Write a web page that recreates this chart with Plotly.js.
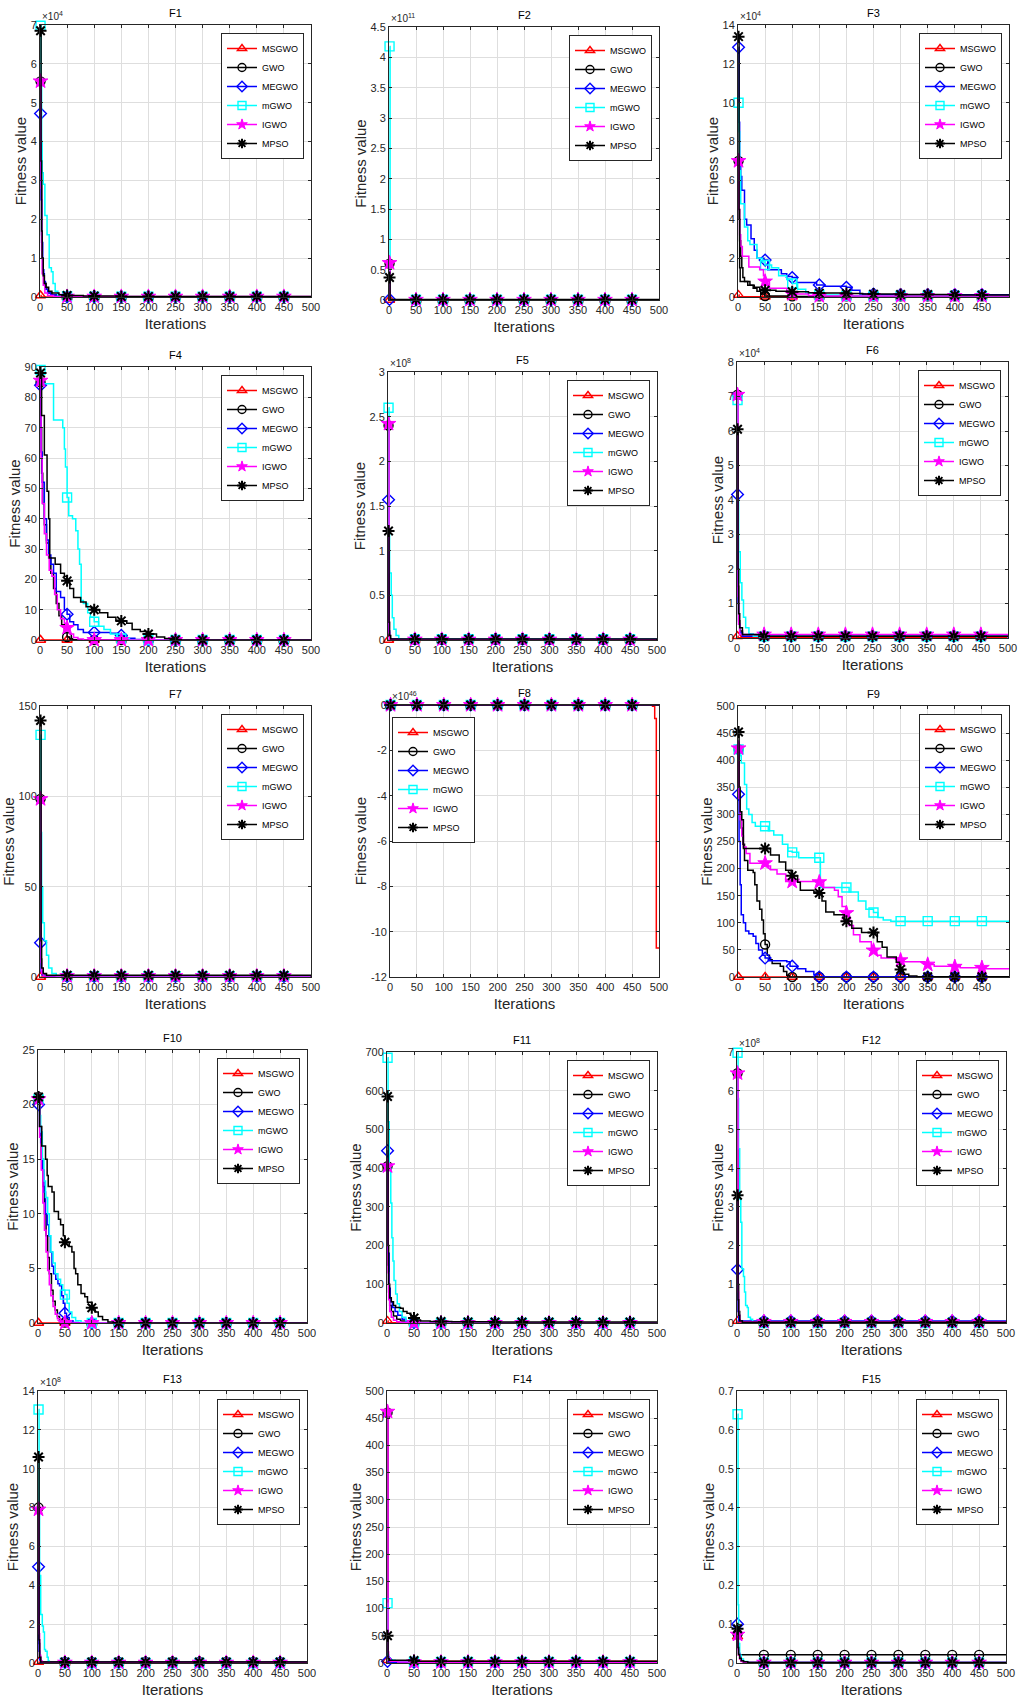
<!DOCTYPE html>
<html><head><meta charset="utf-8">
<script src="https://cdn.plot.ly/plotly-3.0.1.min.js"></script>
<style>html,body{margin:0;padding:0;background:#fff}</style>
</head><body><div id="chart" style="width:1018px;height:1704px"></div>
<script>
// ---------------- DATA ----------------
const SERIES = ['MSGWO','GWO','MEGWO','mGWO','IGWO','MPSO'];
const FUNCS = ['F1','F2','F3','F4','F5','F6','F7','F8','F9','F10','F11','F12','F13','F14','F15'];
const ITER_TICKS = [0,50,100,150,200,250,300,350,400,450,500];
const MARKER_ITERS = [1,50,100,150,200,250,300,350,400,450];
// y axis: shown tick labels are value / 10^Y_EXP
const Y_EXP  = [4, 11, 4, 0, 8, 4, 0, 46, 0, 0, 0, 8, 8, 0, 0];
const Y_MIN  = [0, 0, 0, 0, 0, 0, 0, -12, 0, 0, 0, 0, 0, 0, 0];
const Y_MAX  = [7, 4.5, 14, 90, 3, 8, 150, 0, 500, 25, 700, 7, 14, 500, 0.7];
const Y_STEP = [1, 0.5, 2, 10, 0.5, 1, 50, 2, 50, 5, 100, 1, 2, 50, 0.1];

// [iteration, value (in units of 10^Y_EXP)]
const F1_MSGWO = [[1,0.04],[2,0],[500,0]];
const F1_GWO   = [[1,5.55],[2,3.0],[3,1.6],[4,1.0],[6,0.6],[8,0.35],[11,0.2],[15,0.1],[22,0.05],[30,0.02],[40,0.005],[500,0.003]];
const F1_MEGWO = [[1,4.72],[2,2.5],[3,1.4],[5,0.7],[7,0.4],[10,0.2],[14,0.1],[20,0.05],[30,0.02],[50,0.005],[500,0.002]];
const F1_mGWO  = [[1,6.98],[2,5.5],[3,4.0],[4,3.2],[6,2.9],[9,2.1],[13,1.6],[17,0.75],[21,0.65],[24,0.35],[28,0.15],[33,0.05],[40,0.02],[60,0.005],[500,0.002]];
const F1_IGWO  = [[1,5.55],[2,2.8],[3,1.2],[4,0.6],[6,0.3],[9,0.1],[14,0.04],[25,0.01],[500,0.002]];
const F1_MPSO  = [[1,6.85],[2,3.5],[3,1.7],[4,1.0],[6,0.55],[8,0.35],[11,0.25],[16,0.15],[22,0.1],[35,0.06],[50,0.04],[80,0.025],[150,0.015],[500,0.01]];

const F2_MSGWO = [[1,0],[500,0]];
const F2_GWO   = [[1,0.6],[2,0.005],[500,0]];
const F2_MEGWO = [[1,0.01],[2,0.001],[500,0]];
const F2_mGWO  = [[1,4.18],[2,0.02],[3,0.003],[500,0]];
const F2_IGWO  = [[1,0.61],[2,0.004],[500,0]];
const F2_MPSO  = [[1,0.37],[2,0.01],[500,0]];

const F3_MSGWO = [[1,0.1],[2,0.01],[500,0.005]];
const F3_GWO   = [[1,7.0],[2,4.0],[3,2.9],[5,2.1],[7,1.5],[9,1.0],[12,0.8],[18,0.6],[28,0.45],[35,0.3],[42,0.15],[50,0.05],[100,0.03],[500,0.02]];
const F3_MEGWO = [[1,12.85],[2,9.0],[3,7.0],[5,6.2],[7,5.5],[12,4.0],[16,3.7],[24,3.0],[30,2.4],[35,2.0],[48,1.9],[55,1.4],[80,1.2],[90,1.05],[100,1.0],[108,0.75],[145,0.62],[160,0.55],[200,0.5],[210,0.35],[225,0.15],[260,0.12],[500,0.1]];
const F3_mGWO  = [[1,10.0],[2,8.5],[3,6.5],[5,4.8],[12,3.6],[18,2.9],[22,2.7],[35,2.0],[45,1.8],[50,1.65],[62,1.5],[75,1.1],[90,0.9],[100,0.7],[110,0.4],[125,0.2],[150,0.1],[200,0.06],[500,0.03]];
const F3_IGWO  = [[1,7.0],[2,4.5],[3,3.2],[5,2.6],[8,2.1],[20,1.55],[40,1.4],[47,1.1],[50,0.8],[58,0.45],[90,0.3],[100,0.15],[130,0.08],[150,0.05],[500,0.02]];
const F3_MPSO  = [[1,13.4],[2,4.5],[3,1.5],[4,0.8],[22,0.6],[30,0.5],[40,0.4],[50,0.35],[70,0.3],[100,0.27],[130,0.22],[150,0.2],[200,0.18],[230,0.15],[300,0.13],[400,0.1],[500,0.09]];

const F4_MSGWO = [[1,0],[500,0]];
const F4_GWO   = [[1,85],[2,70],[3,55],[5,45],[8,38],[12,32],[16,27],[20,22],[25,17],[30,12],[35,8],[40,5],[45,2.5],[50,1.0],[55,0.4],[60,0.1],[70,0],[500,0]];
const F4_MEGWO = [[1,84],[2,62],[4,52],[8,40],[12,33],[16,28],[20,25],[25,22],[30,16],[38,14],[45,10],[50,8.5],[55,6],[62,5],[70,3.5],[80,2.5],[130,2.2],[145,1.6],[150,1.5],[160,0.6],[175,0.2],[200,0],[500,0]];
const F4_mGWO  = [[1,89],[3,84.5],[25,72.5],[42,70],[45,63],[47,57],[50,47],[53,41],[60,40],[66,36],[70,30],[73,25],[76,13],[80,12],[88,9],[93,7.5],[100,6],[108,4.5],[118,3.5],[130,2],[142,1],[150,0.5],[165,0.1],[180,0],[500,0]];
const F4_IGWO  = [[1,85.5],[2,60],[4,45],[8,35],[12,28],[17,23],[22,21],[27,15],[32,10],[38,7],[45,5.5],[50,4],[55,2],[62,0.8],[70,0.3],[80,0],[500,0]];
const F4_MPSO  = [[1,88],[3,74],[8,61],[13,49],[16,40],[18,27],[28,25],[38,22],[45,21],[50,19.5],[55,17],[62,14],[75,12.5],[85,11],[95,10],[100,10],[110,9],[125,7.5],[140,6.5],[150,6.3],[160,5.5],[170,3.5],[185,2.8],[200,2],[215,1.0],[230,0.5],[245,0.1],[260,0],[500,0]];

const F5_MSGWO = [[1,0],[500,0]];
const F5_GWO   = [[1,2.4],[2,0.05],[3,0.005],[500,0]];
const F5_MEGWO = [[1,1.57],[2,0.1],[3,0.01],[500,0]];
const F5_mGWO  = [[1,2.6],[2,1.2],[3,0.75],[6,0.5],[8,0.25],[11,0.12],[15,0.05],[20,0.01],[500,0]];
const F5_IGWO  = [[1,2.42],[2,0.08],[3,0.005],[500,0]];
const F5_MPSO  = [[1,1.22],[2,0.2],[3,0.05],[5,0.01],[500,0]];

const F6_MSGWO = [[1,0.05],[2,0.01],[500,0]];
const F6_GWO   = [[1,7.05],[2,1.5],[3,0.5],[5,0.2],[10,0.05],[500,0.01]];
const F6_MEGWO = [[1,4.16],[2,1.0],[3,0.4],[5,0.15],[10,0.05],[500,0.01]];
const F6_mGWO  = [[1,6.9],[2,4.0],[3,2.5],[6,1.6],[9,1.1],[12,0.6],[16,0.3],[22,0.12],[30,0.05],[500,0.01]];
const F6_IGWO  = [[1,7.05],[2,1.2],[3,0.4],[5,0.1],[500,0.01]];
const F6_MPSO  = [[1,6.05],[2,2.0],[3,0.7],[5,0.3],[10,0.1],[50,0.05],[500,0.03]];

const F7_MSGWO = [[1,0],[500,0]];
const F7_GWO   = [[1,98.5],[2,10],[3,3],[5,1],[10,0.3],[500,0.1]];
const F7_MEGWO = [[1,19],[2,3],[4,1],[10,0.3],[500,0.1]];
const F7_mGWO  = [[1,134],[2,80],[3,50],[5,30],[8,20],[12,12],[16,5],[22,2],[30,0.5],[500,0.1]];
const F7_IGWO  = [[1,98.5],[2,8],[3,2],[6,0.5],[500,0.1]];
const F7_MPSO  = [[1,142],[2,20],[3,5],[6,2],[12,1],[500,0.3]];

const F8_MSGWO = [[1,0],[488,-0.05],[492,-0.6],[495,-10.72],[500,-10.72]];
const F8_GWO   = [[1,0],[500,0]];
const F8_MEGWO = [[1,0],[500,0]];
const F8_mGWO  = [[1,0],[500,0]];
const F8_IGWO  = [[1,0],[500,0]];
const F8_MPSO  = [[1,0],[500,0]];

const F9_MSGWO = [[1,0],[500,0]];
const F9_GWO   = [[1,420],[2,330],[4,300],[6,275],[9,245],[12,215],[18,197],[28,193],[31,170],[35,140],[40,125],[44,105],[47,80],[50,60],[54,40],[58,32],[63,25],[78,20],[84,10],[90,3],[95,0],[500,0]];
const F9_MEGWO = [[1,337],[2,250],[4,170],[6,115],[10,100],[14,85],[20,80],[28,75],[33,62],[38,50],[45,40],[50,35],[56,30],[90,28],[96,20],[110,15],[125,10],[140,4],[150,0],[500,0]];
const F9_mGWO  = [[1,420],[3,408],[6,395],[12,355],[16,310],[20,300],[26,285],[32,278],[56,270],[66,262],[82,245],[92,232],[100,230],[112,220],[152,165],[205,157],[222,140],[236,125],[250,119],[258,110],[268,105],[282,103],[500,103]];
const F9_IGWO  = [[1,422],[2,330],[4,290],[7,260],[10,240],[15,228],[22,210],[55,205],[60,198],[72,190],[88,176],[150,175],[158,165],[178,160],[185,148],[192,130],[200,118],[205,95],[213,78],[225,65],[246,52],[250,49],[256,40],[264,35],[296,32],[300,31],[306,28],[345,24],[350,23],[362,20],[400,19],[410,17],[455,15],[500,15]];
const F9_MPSO  = [[1,452],[2,350],[4,305],[7,290],[10,237],[60,225],[76,212],[88,197],[98,187],[110,175],[115,160],[140,157],[150,155],[155,140],[162,120],[177,115],[196,103],[210,90],[228,82],[257,65],[266,55],[275,37],[292,27],[298,14],[305,5],[315,2],[330,0.5],[500,0]];

const F10_MSGWO = [[1,0],[500,0]];
const F10_GWO   = [[1,20.7],[3,18],[6,15],[9,12.5],[12,10],[15,8],[18,6],[21,4.5],[25,3],[28,2],[32,1.2],[36,0.6],[40,0.3],[45,0.1],[50,0.05],[60,0],[500,0]];
const F10_MEGWO = [[1,20],[3,18],[5,16.5],[8,14],[11,12],[14,10],[17,9],[20,8],[23,6.5],[26,5.2],[29,4.5],[33,4],[37,3.6],[40,3.4],[44,2.5],[47,1.8],[50,0.9],[53,0.5],[58,0.2],[65,0.05],[75,0],[500,0]];
const F10_mGWO  = [[1,20.5],[3,19],[5,17.5],[8,15],[11,13],[14,11.5],[18,10],[21,8],[24,6.5],[28,5.5],[32,4.5],[37,4],[42,3.5],[46,3],[50,2.6],[54,1.8],[58,1.0],[63,0.5],[70,0.2],[80,0.05],[90,0],[500,0]];
const F10_IGWO  = [[1,20.5],[3,17],[6,14],[9,11],[12,8.5],[15,6.5],[18,4.8],[21,3.5],[24,2.5],[28,1.5],[32,0.8],[36,0.4],[42,0.1],[50,0.02],[60,0],[500,0]];
const F10_MPSO  = [[1,20.7],[3,18],[7,16.2],[14,15],[17,13.5],[19,12.5],[26,12],[30,10.2],[38,9.5],[42,9],[47,8],[50,7.4],[58,7],[63,6.5],[67,5],[70,4.5],[74,3.5],[80,2.7],[87,2.4],[92,1.9],[100,1.4],[106,1.0],[112,0.6],[120,0.3],[130,0.1],[140,0],[500,0]];

const F11_MSGWO = [[1,5],[2,0.5],[500,0]];
const F11_GWO   = [[1,405],[2,150],[3,80],[5,45],[8,30],[12,18],[18,10],[25,5],[35,2],[50,0.5],[500,0]];
const F11_MEGWO = [[1,445],[2,180],[4,90],[6,55],[10,40],[15,30],[20,20],[28,10],[35,4],[45,1],[55,0],[500,0]];
const F11_mGWO  = [[1,685],[2,520],[4,400],[7,310],[9,220],[11,160],[13,110],[16,75],[19,50],[23,30],[28,15],[35,6],[45,2],[55,0],[500,0]];
const F11_IGWO  = [[1,405],[2,130],[3,60],[5,30],[8,15],[12,7],[18,3],[25,1],[40,0],[500,0]];
const F11_MPSO  = [[1,585],[2,200],[3,100],[5,65],[8,55],[12,45],[16,40],[25,38],[30,30],[37,25],[44,18],[50,13],[55,8],[62,5],[80,4],[120,3],[200,2.5],[500,2]];

const F12_MSGWO = [[1,0.05],[2,0.005],[500,0]];
const F12_GWO   = [[1,6.45],[2,1.0],[3,0.3],[5,0.05],[10,0.01],[500,0]];
const F12_MEGWO = [[1,1.38],[2,0.3],[3,0.05],[500,0]];
const F12_mGWO  = [[1,6.98],[2,5.8],[3,4.5],[5,3.2],[7,2.6],[9,1.4],[12,1.2],[14,0.8],[16,0.45],[19,0.4],[21,0.15],[25,0.1],[29,0.03],[35,0],[500,0]];
const F12_IGWO  = [[1,6.45],[2,0.8],[3,0.2],[5,0.03],[500,0]];
const F12_MPSO  = [[1,3.3],[2,0.6],[3,0.2],[5,0.05],[10,0.02],[500,0.01]];

const F13_MSGWO = [[1,0.05],[2,0.005],[500,0]];
const F13_GWO   = [[1,8.0],[2,1.0],[3,0.3],[5,0.05],[500,0]];
const F13_MEGWO = [[1,4.95],[2,0.6],[3,0.15],[5,0.02],[500,0]];
const F13_mGWO  = [[1,13.05],[2,8],[3,4.5],[5,2.5],[8,1.9],[10,1.6],[12,0.7],[14,0.6],[17,0.3],[19,0.1],[21,0],[500,0]];
const F13_IGWO  = [[1,7.9],[2,1.5],[3,0.4],[5,0.1],[8,0.02],[500,0]];
const F13_MPSO  = [[1,10.6],[2,1.2],[3,0.3],[5,0.05],[500,0.01]];

const F14_MSGWO = [[1,5],[2,3],[500,2.5]];
const F14_GWO   = [[1,460],[2,12],[3,6],[6,4],[20,3],[50,2],[500,1.5]];
const F14_MEGWO = [[1,3],[2,2],[10,1.5],[500,1]];
const F14_mGWO  = [[1,110],[2,15],[3,8],[6,5],[15,3],[40,2],[500,1]];
const F14_IGWO  = [[1,462],[2,20],[3,8],[6,3],[20,2],[50,1.5],[500,1]];
const F14_MPSO  = [[1,50],[2,8],[4,5],[45,4.5],[55,3],[500,3]];

const F15_MSGWO = [[1,0.068],[2,0.04],[3,0.02],[5,0.01],[8,0.005],[12,0.002],[20,0.001],[40,0.0005],[500,0.0003]];
const F15_GWO   = [[1,0.075],[2,0.04],[3,0.021],[500,0.021]];
const F15_MEGWO = [[1,0.1],[2,0.05],[3,0.025],[5,0.012],[8,0.006],[12,0.003],[20,0.001],[500,0.0005]];
const F15_mGWO  = [[1,0.64],[2,0.15],[3,0.05],[5,0.02],[8,0.01],[12,0.004],[20,0.001],[500,0.0005]];
const F15_IGWO  = [[1,0.073],[2,0.035],[3,0.02],[5,0.01],[8,0.004],[12,0.002],[20,0.001],[500,0.0004]];
const F15_MPSO  = [[1,0.088],[2,0.04],[3,0.022],[5,0.012],[8,0.006],[12,0.003],[20,0.0015],[500,0.0008]];

const CURVES = [
  [F1_MSGWO,F1_GWO,F1_MEGWO,F1_mGWO,F1_IGWO,F1_MPSO],
  [F2_MSGWO,F2_GWO,F2_MEGWO,F2_mGWO,F2_IGWO,F2_MPSO],
  [F3_MSGWO,F3_GWO,F3_MEGWO,F3_mGWO,F3_IGWO,F3_MPSO],
  [F4_MSGWO,F4_GWO,F4_MEGWO,F4_mGWO,F4_IGWO,F4_MPSO],
  [F5_MSGWO,F5_GWO,F5_MEGWO,F5_mGWO,F5_IGWO,F5_MPSO],
  [F6_MSGWO,F6_GWO,F6_MEGWO,F6_mGWO,F6_IGWO,F6_MPSO],
  [F7_MSGWO,F7_GWO,F7_MEGWO,F7_mGWO,F7_IGWO,F7_MPSO],
  [F8_MSGWO,F8_GWO,F8_MEGWO,F8_mGWO,F8_IGWO,F8_MPSO],
  [F9_MSGWO,F9_GWO,F9_MEGWO,F9_mGWO,F9_IGWO,F9_MPSO],
  [F10_MSGWO,F10_GWO,F10_MEGWO,F10_mGWO,F10_IGWO,F10_MPSO],
  [F11_MSGWO,F11_GWO,F11_MEGWO,F11_mGWO,F11_IGWO,F11_MPSO],
  [F12_MSGWO,F12_GWO,F12_MEGWO,F12_mGWO,F12_IGWO,F12_MPSO],
  [F13_MSGWO,F13_GWO,F13_MEGWO,F13_mGWO,F13_IGWO,F13_MPSO],
  [F14_MSGWO,F14_GWO,F14_MEGWO,F14_mGWO,F14_IGWO,F14_MPSO],
  [F15_MSGWO,F15_GWO,F15_MEGWO,F15_mGWO,F15_IGWO,F15_MPSO]
];

// ---------------- STYLE / LAYOUT ----------------
const W = 1018, H = 1704;
const NARROW = '"Liberation Sans Narrow", "Liberation Sans", Arial, sans-serif';
const SANS = '"Liberation Sans", Arial, sans-serif';
const AX = '#262626';
const COLORS  = ['#ff0000','#000000','#0000ff','#00ffff','#ff00ff','#000000'];
const SYMBOLS = ['triangle-up-open','circle-open','diamond-open','square-open','star','asterisk-open'];
const MSIZE   = [9, 9, 9, 9, 11, 10];
const MLW     = [1.4, 1.4, 1.4, 1.4, 1, 2];
// plot-area boxes in pixels: [left, right, top, bottom]
const BOX = [
  [40,311,25,297],[389,659,27,300],[738,1009,25,297],
  [40,311,367,640],[388,657,372,640],[737,1008,362,638],
  [40,311,706,977],[390,659,705,977],[738,1009,706,977],
  [38,307,1050,1323],[387,657,1052,1323],[737,1006,1052,1323],
  [38,307,1391,1663],[387,657,1391,1663],[737,1006,1391,1663]
];

function stepValue(pts, it) {
  let v = pts[0][1];
  for (const p of pts) { if (p[0] <= it) v = p[1]; else break; }
  return v;
}
function fmt(v) { return String(+v.toFixed(6)); }

const traces = [];
const layout = {
  width: W, height: H, margin: {l:0, r:0, t:0, b:0},
  paper_bgcolor: '#ffffff', plot_bgcolor: '#ffffff',
  showlegend: true, hovermode: false,
  font: {family: SANS, color: AX},
  annotations: []
};

FUNCS.forEach((fname, i) => {
  const k = i + 1;
  const sfx = k === 1 ? '' : String(k);
  const xa = 'x' + sfx, ya = 'y' + sfx, lg = 'legend' + sfx;
  const [l, r, t, b] = BOX[i];
  const scale = Math.pow(10, Y_EXP[i]);
  const tickvals = [], ticktext = [];
  const n = Math.round((Y_MAX[i] - Y_MIN[i]) / Y_STEP[i]);
  for (let j = 0; j <= n; j++) {
    const v = Y_MIN[i] + j * Y_STEP[i];
    tickvals.push(v * scale); ticktext.push(fmt(v));
  }
  const common = {
    showgrid: true, gridcolor: '#dedede', gridwidth: 1, zeroline: false,
    showline: true, linecolor: AX, linewidth: 1, mirror: 'ticks',
    ticks: 'inside', ticklen: 3, tickcolor: AX, tickwidth: 1,
    tickfont: {family: NARROW, size: 11, color: AX},
    fixedrange: true, automargin: false
  };
  layout['xaxis' + sfx] = Object.assign({}, common, {
    domain: [l / W, r / W], anchor: ya, range: [0, 500],
    tickmode: 'array', tickvals: ITER_TICKS, ticktext: ITER_TICKS.map(String),
    title: {text: 'Iterations', font: {family: NARROW, size: 15, color: AX}, standoff: 6}
  });
  layout['yaxis' + sfx] = Object.assign({}, common, {
    domain: [1 - b / H, 1 - t / H], anchor: xa,
    range: [Y_MIN[i] * scale, Y_MAX[i] * scale],
    tickmode: 'array', tickvals: tickvals, ticktext: ticktext,
    title: {text: 'Fitness value', font: {family: SANS, size: 15, color: AX}, standoff: 0}
  });
  const topLeft = fname === 'F8';
  layout[lg] = {
    x: topLeft ? (l + 2) / W : (r - 7) / W, xanchor: topLeft ? 'left' : 'right',
    y: 1 - (t + (topLeft ? 12 : 8)) / H, yanchor: 'top',
    bgcolor: '#ffffff', bordercolor: AX, borderwidth: 1,
    font: {family: NARROW, size: 9, color: '#000'},
    itemwidth: 30, tracegroupgap: 0, itemclick: false, itemdoubleclick: false
  };
  // subplot title
  layout.annotations.push({
    xref: 'paper', yref: 'paper', x: ((l + r) / 2) / W, y: 1 - (t - 4) / H,
    xanchor: 'center', yanchor: 'bottom', showarrow: false,
    text: fname, font: {family: NARROW, size: 11, color: '#000'}
  });
  if (Y_EXP[i] > 0) {
    layout.annotations.push({
      xref: 'paper', yref: 'paper', x: l / W, y: 1 - (t - 1) / H,
      xanchor: 'left', yanchor: 'bottom', showarrow: false,
      text: '×10<sup>' + Y_EXP[i] + '</sup>', font: {family: NARROW, size: 10, color: AX}
    });
  }

  SERIES.forEach((sname, s) => {
    const pts = CURVES[i][s];
    const mk = {symbol: SYMBOLS[s], size: MSIZE[s], color: COLORS[s],
                line: {color: COLORS[s], width: MLW[s]}};
    traces.push({
      type: 'scatter', mode: 'lines', xaxis: xa, yaxis: ya,
      x: pts.map(p => p[0]), y: pts.map(p => p[1] * scale),
      line: {color: COLORS[s], width: 1.5, shape: 'hv'},
      showlegend: false, cliponaxis: false, hoverinfo: 'skip', name: sname
    });
    traces.push({
      type: 'scatter', mode: 'markers', xaxis: xa, yaxis: ya,
      x: MARKER_ITERS, y: MARKER_ITERS.map(it => stepValue(pts, it) * scale),
      marker: mk, showlegend: false, cliponaxis: false, hoverinfo: 'skip', name: sname
    });
    traces.push({
      type: 'scatter', mode: 'lines+markers', xaxis: xa, yaxis: ya,
      x: [null], y: [null], name: sname, legend: lg,
      line: {color: COLORS[s], width: 1.5},
      marker: {symbol: SYMBOLS[s], size: 8, color: COLORS[s], line: {color: COLORS[s], width: MLW[s]}},
      showlegend: true, hoverinfo: 'skip'
    });
  });
});

Plotly.newPlot('chart', traces, layout, {staticPlot: true, displayModeBar: false});
</script>
</body></html>
